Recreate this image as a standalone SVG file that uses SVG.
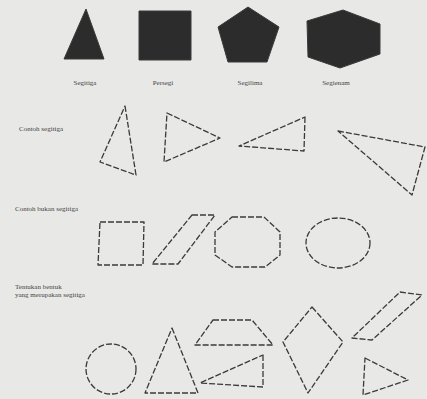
<svg xmlns="http://www.w3.org/2000/svg" width="427" height="399" viewBox="0 0 427 399">
<style>
.solid{fill:#2c2c2c;stroke:#3a3a3a;stroke-width:1}
.d{fill:none;stroke:#3a3a3a;stroke-width:1.3;stroke-dasharray:6 2;stroke-linejoin:round}
.lbl{font-family:"Liberation Serif",serif;font-size:7px;fill:#444}
.row{font-family:"Liberation Serif",serif;font-size:7px;fill:#444}
</style>
<rect width="427" height="399" fill="#e8e8e6"/>
<g id="segitiga"><polygon class="solid" points="86,9 104,59 64,59"/><text class="lbl" x="85" y="85" text-anchor="middle">Segitiga</text></g>
<g id="persegi"><polygon class="solid" points="139,11 191,11 191,60 139,60"/><text class="lbl" x="163" y="85" text-anchor="middle">Persegi</text></g>
<g id="segilima"><polygon class="solid" points="248,7 279,27 267,62 228,62 218,27"/><text class="lbl" x="250" y="85" text-anchor="middle">Segilima</text></g>
<g id="segienam"><polygon class="solid" points="343,10 380,24 380,54 340,68 308,57 307,21"/><text class="lbl" x="336" y="85" text-anchor="middle">Segienam</text></g>

<g id="row1">
<text class="row" x="19" y="131">Contoh segitiga</text>
<polygon class="d" points="125,106 136,175 100,162"/>
<polygon class="d" points="167,113 220,138 164,162"/>
<polygon class="d" points="305,117 304,151 239,146"/>
<polygon class="d" points="338,131 425,147 412,195"/>
</g>

<g id="row2">
<text class="row" x="15" y="211">Contoh bukan segitiga</text>
<polygon class="d" points="100,222 144,222 143,265 98,265"/>
<polygon class="d" points="192,215 215,215 178,264 152,264"/>
<polygon class="d" points="232,217 264,217 280,232 280,255 265,267 232,267 215,255 215,232"/>
<ellipse class="d" cx="338" cy="243" rx="32" ry="25"/>
</g>

<g id="row3">
<text class="row" x="15" y="289">Tentukan bentuk</text>
<text class="row" x="15" y="297">yang merupakan segitiga</text>
<circle class="d" cx="111" cy="369" r="25"/>
<polygon class="d" points="172,328 198,393 145,393"/>
<polygon class="d" points="213,320 252,320 273,345 195,345"/>
<polygon class="d" points="263,355 263,387 200,383"/>
<polygon class="d" points="312,307 343,342 308,393 283,342"/>
<polygon class="d" points="400,292 422,295 372,340 352,338"/>
<polygon class="d" points="365,358 408,380 363,395"/>
</g>
</svg>
